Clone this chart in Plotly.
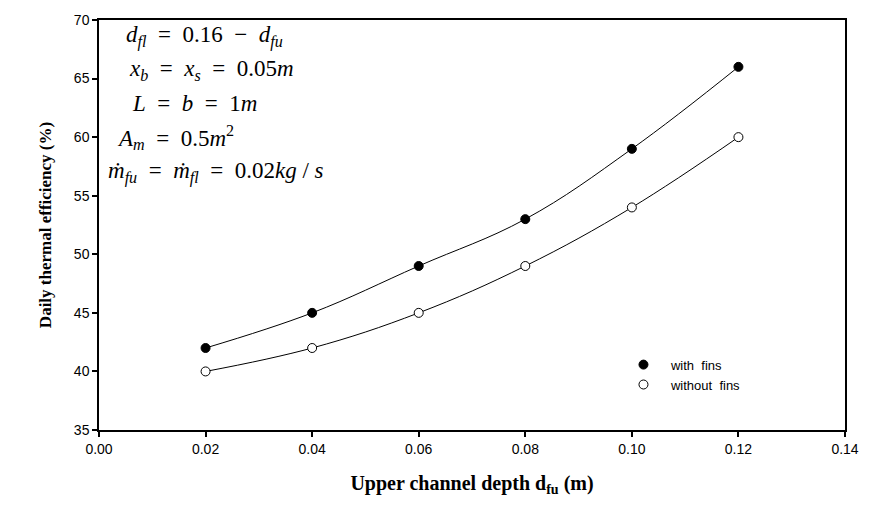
import plotly.graph_objects as go

depth = [0.02, 0.04, 0.06, 0.08, 0.10, 0.12]
with_fins = [42, 45, 49, 53, 59, 66]
without_fins = [40, 42, 45, 49, 54, 60]
x_ticks = [0.00, 0.02, 0.04, 0.06, 0.08, 0.10, 0.12, 0.14]
y_ticks = [35, 40, 45, 50, 55, 60, 65, 70]

fig = go.Figure()
for ys in (with_fins, without_fins):
    fig.add_trace(go.Scatter(x=depth, y=ys, mode="lines", line=dict(color="black", width=1, shape="spline", smoothing=1.1),
                             showlegend=False, hoverinfo="skip"))
fig.add_trace(go.Scatter(x=depth, y=with_fins, mode="markers", name="with  fins",
                         marker=dict(symbol="circle", size=9, color="black", line=dict(color="black", width=1))))
fig.add_trace(go.Scatter(x=depth, y=without_fins, mode="markers", name="without  fins",
                         marker=dict(symbol="circle", size=9, color="white", line=dict(color="black", width=1))))

axis_common = dict(showline=True, linecolor="black", linewidth=1.5, mirror=True, ticks="outside",
                   ticklen=5, tickcolor="black", tickwidth=1.5, showgrid=False, zeroline=False,
                   tickfont=dict(family="Liberation Sans, Arial", size=14, color="black"))
fig.update_xaxes(range=[0, 0.14], tickvals=x_ticks, ticktext=[f"{v:.2f}" for v in x_ticks],
                 title=dict(text="<b>Upper channel depth d<sub>fu</sub> (m)</b>",
                            font=dict(family="Liberation Serif, Times New Roman", size=20, color="black"), standoff=20),
                 **axis_common)
fig.update_yaxes(range=[35, 70], tickvals=y_ticks,
                 title=dict(text="<b>Daily thermal efficiency (%)</b>",
                            font=dict(family="Liberation Serif, Times New Roman", size=17, color="black"), standoff=18),
                 **axis_common)

ann_font = dict(family="Liberation Serif, Times New Roman", size=23, color="black")
S = "&nbsp;&nbsp;"
lines = [
    (0.033, 0.959, f"<i>d</i><sub><i>fl</i></sub>{S}={S}0.16{S}−{S}<i>d</i><sub><i>fu</i></sub>"),
    (0.037, 0.877, f"<i>x</i><sub><i>b</i></sub>{S}={S}<i>x</i><sub><i>s</i></sub>{S}={S}0.05<i>m</i>"),
    (0.042, 0.797, f"<i>L</i>{S}={S}<i>b</i>{S}={S}1<i>m</i>"),
    (0.022, 0.713, f"<i>A</i><sub><i>m</i></sub>{S}={S}0.5<i>m</i><sup>2</sup>"),
    (0.010, 0.628, f"<i>ṁ</i><sub><i>fu</i></sub>{S}={S}<i>ṁ</i><sub><i>fl</i></sub>{S}={S}0.02<i>kg</i>&nbsp;/&nbsp;<i>s</i>"),
]
for xx, yy, t in lines:
    fig.add_annotation(x=xx, y=yy, xref="paper", yref="paper", text=t, showarrow=False,
                       xanchor="left", yanchor="middle", font=ann_font)

fig.update_layout(
    width=871, height=509, margin=dict(l=99, r=22, t=16, b=79),
    plot_bgcolor="white", paper_bgcolor="white",
    legend=dict(x=0.693, y=0.135, xanchor="left", yanchor="middle", bgcolor="rgba(0,0,0,0)",
                font=dict(family="Liberation Sans, Arial", size=13, color="black"), itemwidth=45,
                tracegroupgap=0),
)
fig.write_html("out.html")
